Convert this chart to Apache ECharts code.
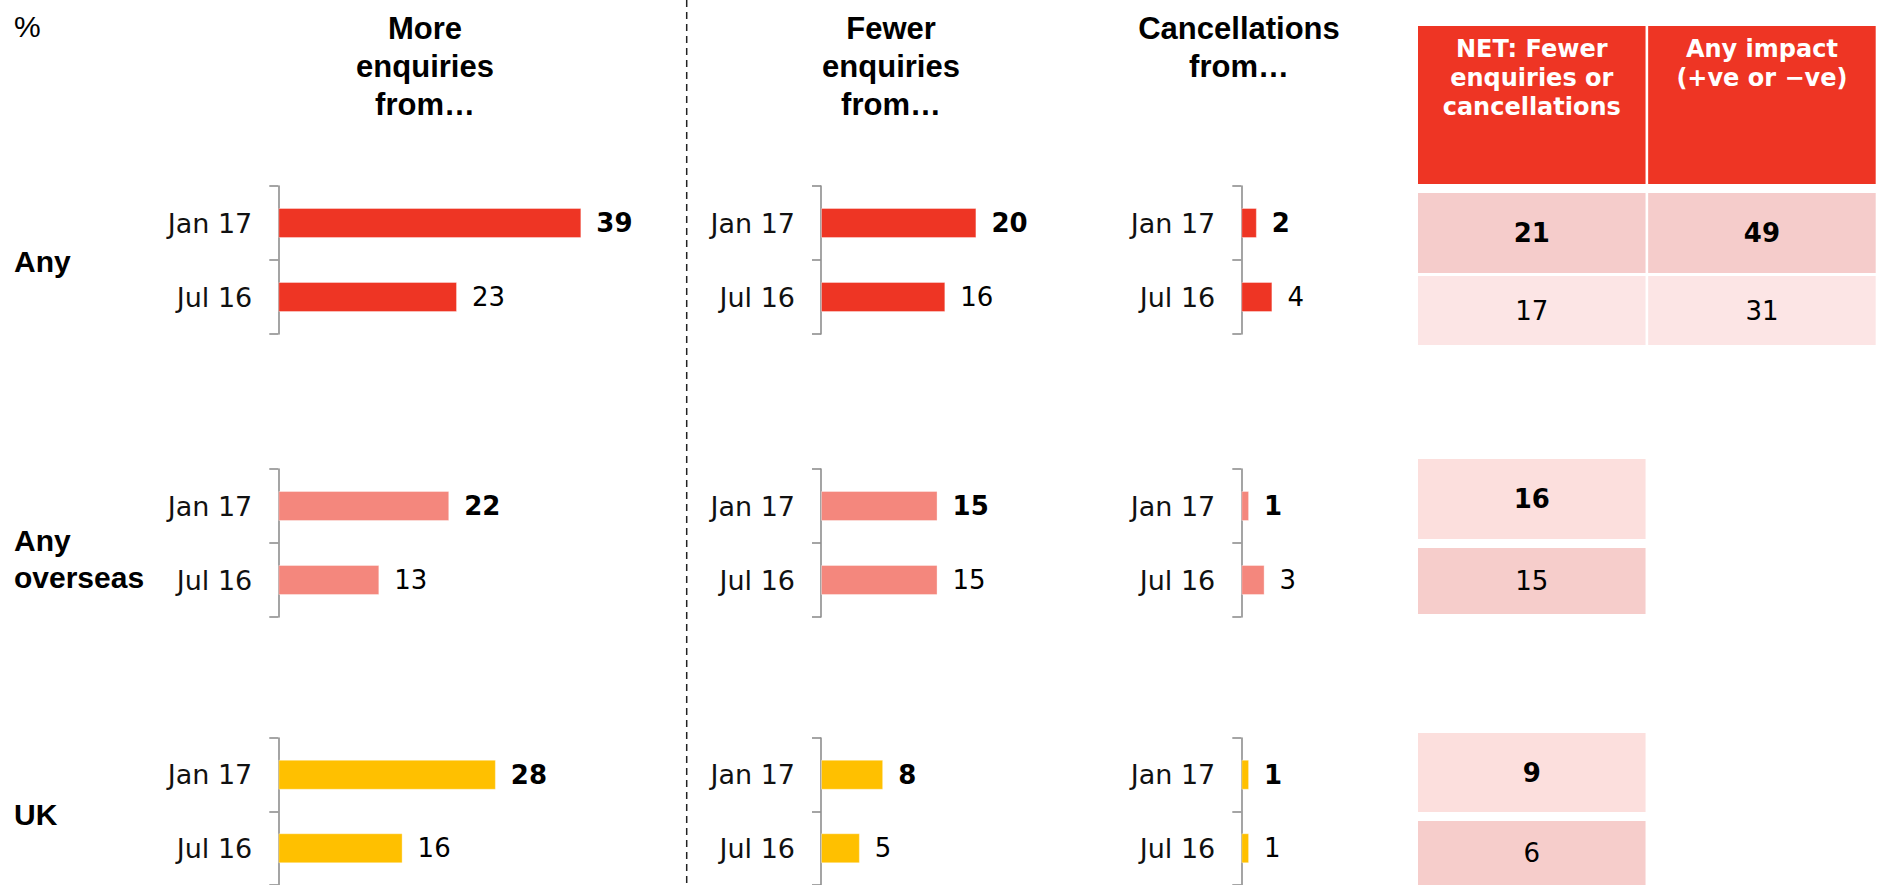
<!DOCTYPE html>
<html><head><meta charset="utf-8">
<script src="https://cdn.jsdelivr.net/npm/echarts@6/dist/echarts.min.js"></script>
<style>html,body{margin:0;padding:0;background:#fff;overflow:hidden}#c{width:1877px;height:885px}</style>
</head><body><div id="c"></div>
<script>
// ---- data ----
const periods = ['Jan 17', 'Jul 16'];
const groupNames = ['Any', 'Any\noverseas', 'UK'];
const panelTitles = ['More\nenquiries\nfrom…', 'Fewer\nenquiries\nfrom…', 'Cancellations\nfrom…'];
const moreAny = [39, 23];
const moreOverseas = [22, 13];
const moreUK = [28, 16];
const fewerAny = [20, 16];
const fewerOverseas = [15, 15];
const fewerUK = [8, 5];
const cancelAny = [2, 4];
const cancelOverseas = [1, 3];
const cancelUK = [1, 1];
const tableHeaders = ['NET: Fewer\nenquiries or\ncancellations', 'Any impact\n(+ve or −ve)'];
const netAny = [21, 17];
const impactAny = [49, 31];
const netOverseas = [16, 15];
const netUK = [9, 6];

// ---- layout / style ----
const PANEL_X = [278.3, 821, 1241.3];
const TITLE_X = [425, 891, 1239];
const GROUP_TOP = [186, 469, 738];
const GROUP_H = 148;
const XMAX = 40, UNIT = 7.77;
const GROUP_COLORS = ['#EE3524', '#F4877D', '#FFC000'];
const LABEL_FONT = 'DejaVu Sans';
const TITLE_FONT = 'Liberation Sans';
const TABLE_LEFT = 1416.7, TABLE_W = 466;
const HEADER_BOX = [26, 158];
const TABLE_ROWS = [[[193, 80], [276, 69]], [[459, 80], [548, 66]], [[733, 79], [821, 65]]];
const ROW_FILL = [['#F5CCCB', '#FCE5E5'], ['#FCDFDD', '#F6CDCB'], ['#FCDFDD', '#F6CDCB']];

const panelData = [
  [moreAny, moreOverseas, moreUK],
  [fewerAny, fewerOverseas, fewerUK],
  [cancelAny, cancelOverseas, cancelUK]
];
const tableData = [[netAny, impactAny], [netOverseas], [netUK]];

const grid = [], xAxis = [], yAxis = [], series = [];
const axisColor = '#8E8E8E';

panelData.forEach((groups, pi) => {
  groups.forEach((vals, gi) => {
    const idx = grid.length;
    grid.push({left: PANEL_X[pi], top: GROUP_TOP[gi], width: XMAX * UNIT, height: GROUP_H, containLabel: false});
    xAxis.push({gridIndex: idx, type: 'value', min: 0, max: XMAX, show: false});
    yAxis.push({
      gridIndex: idx, type: 'category', data: periods, inverse: true,
      axisLine: {show: true, lineStyle: {color: axisColor, width: 1.6}},
      axisTick: {show: true, length: 9, lineStyle: {color: axisColor, width: 1.6}},
      axisLabel: {margin: 26, fontFamily: LABEL_FONT, fontSize: 27, color: '#111'},
      splitLine: {show: false}
    });
    series.push({
      type: 'bar', xAxisIndex: idx, yAxisIndex: idx, barWidth: 30, silent: true,
      itemStyle: {color: GROUP_COLORS[gi], borderColor: 'rgba(255,255,255,0.35)', borderWidth: 1},
      label: {show: true, position: 'right', distance: 15, fontFamily: LABEL_FONT, fontSize: 26, color: '#000'},
      data: vals.map((v, i) => i === 0 ? {value: v, label: {fontWeight: 'bold'}} : {value: v})
    });
  });
});

function addTableGrid(top, h, rowName) {
  const idx = grid.length;
  grid.push({left: TABLE_LEFT, top: top, width: TABLE_W, height: h});
  xAxis.push({gridIndex: idx, type: 'category', data: ['NET', 'Any impact'], show: false});
  yAxis.push({gridIndex: idx, type: 'category', data: [rowName], show: false});
  return idx;
}

// header
{
  const idx = addTableGrid(HEADER_BOX[0], HEADER_BOX[1], 'header');
  series.push({
    type: 'custom', xAxisIndex: idx, yAxisIndex: idx, silent: true,
    data: tableHeaders.map((t, i) => [i, 0]),
    renderItem: function (params, api) {
      const c = api.coord([api.value(0), api.value(1)]);
      const s = api.size([1, 1]);
      const x0 = c[0] - s[0] / 2, y0 = c[1] - s[1] / 2;
      return {type: 'group', children: [
        {type: 'rect', shape: {x: x0 + 1.3, y: y0, width: s[0] - 2.6, height: s[1]}, style: {fill: '#EE3524'}},
        {type: 'text', style: {text: tableHeaders[params.dataIndex], x: c[0], y: y0 + 8.5, align: 'center', verticalAlign: 'top',
          lineHeight: 29, fontFamily: LABEL_FONT, fontSize: 24, fontWeight: 'bold', fill: '#fff'}}
      ]};
    }
  });
}

tableData.forEach((cols, gi) => {
  periods.forEach((p, pi) => {
    const r = TABLE_ROWS[gi][pi];
    const idx = addTableGrid(r[0], r[1], p);
    const fill = ROW_FILL[gi][pi];
    const bold = pi === 0;
    series.push({
      type: 'custom', xAxisIndex: idx, yAxisIndex: idx, silent: true,
      data: cols.map((arr, ci) => [ci, 0, arr[pi]]),
      renderItem: function (params, api) {
        const c = api.coord([api.value(0), api.value(1)]);
        const s = api.size([1, 1]);
        const x0 = c[0] - s[0] / 2, y0 = c[1] - s[1] / 2;
        return {type: 'group', children: [
          {type: 'rect', shape: {x: x0 + 1.3, y: y0, width: s[0] - 2.6, height: s[1]}, style: {fill: fill}},
          {type: 'text', style: {text: String(api.value(2)), x: c[0], y: c[1], align: 'center', verticalAlign: 'middle',
            fontFamily: LABEL_FONT, fontSize: 26, fontWeight: bold ? 'bold' : 'normal', fill: '#000'}}
        ]};
      }
    });
  });
});

const graphic = [
  {type: 'line', silent: true, shape: {x1: 686.7, y1: 0, x2: 686.7, y2: 885}, style: {stroke: '#222', lineWidth: 1.5, lineDash: [7, 5]}},
  {type: 'text', x: 14, y: 26, style: {text: '%', fontFamily: TITLE_FONT, fontSize: 30, fill: '#000', align: 'left', verticalAlign: 'middle'}}
];
panelTitles.forEach((t, i) => {
  graphic.push({type: 'text', x: TITLE_X[i], y: 9, style: {text: t, fontFamily: TITLE_FONT, fontSize: 31, fontWeight: 'bold', lineHeight: 38,
    fill: '#000', align: 'center', verticalAlign: 'top'}});
});
const ROW_LABEL_Y = [261, 559, 814];
groupNames.forEach((t, i) => {
  graphic.push({type: 'text', x: 14, y: ROW_LABEL_Y[i], style: {text: t, fontFamily: TITLE_FONT, fontSize: 30, fontWeight: 'bold', lineHeight: 37,
    fill: '#000', align: 'left', verticalAlign: 'middle'}});
});

const chart = echarts.init(document.getElementById('c'), null, {renderer: 'svg', width: 1877, height: 885});
chart.setOption({animation: false, backgroundColor: '#fff', grid, xAxis, yAxis, series, graphic});
</script>
</body></html>
